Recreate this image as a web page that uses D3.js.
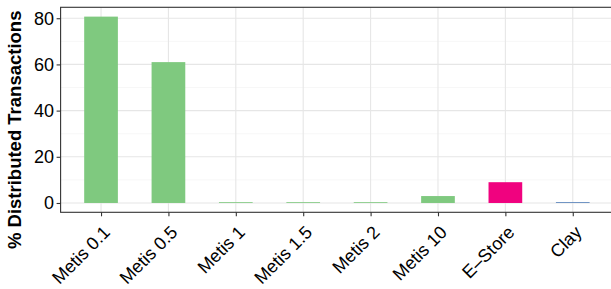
<!DOCTYPE html>
<html lang="en">
<head>
<meta charset="utf-8">
<title>Distributed Transactions</title>
<script src="https://cdn.jsdelivr.net/npm/d3@7"></script>
<style>
  body { margin: 0; background: #fff; }
  text { font-family: "Liberation Sans", Arial, Helvetica, sans-serif; fill: #000; }
</style>
</head>
<body>
<script>
// data
var systems = ["Metis 0.1", "Metis 0.5", "Metis 1", "Metis 1.5", "Metis 2", "Metis 10", "E\u2013Store", "Clay"];
var distributed = [80.7, 61.0, 0.35, 0.35, 0.35, 3.0, 9.0, 0.3];
var barColors = ["#7fc97f", "#7fc97f", "#7fc97f", "#7fc97f", "#7fc97f", "#7fc97f", "#f0027f", "#386cb0"];
var yTicks = [0, 20, 40, 60, 80];
var yMinor = [10, 30, 50, 70];

var W = 611, H = 289;
var panel = {left: 60.6, right: 613.2, top: 7.3, bottom: 212.3};

var svg = d3.select("body").append("svg")
    .attr("width", W)
    .attr("height", H);

var x = d3.scalePoint()
    .domain(systems)
    .range([panel.left, panel.right])
    .padding(0.6);

var yMax = d3.max(distributed);
var y = d3.scaleLinear()
    .domain([-yMax * 0.05, yMax * 1.05])
    .range([panel.bottom, panel.top]);

var barW = x.step() * 0.5;

// grid
var grid = svg.append("g");
grid.selectAll(".minor").data(yMinor).enter().append("line")
    .attr("x1", panel.left).attr("x2", panel.right)
    .attr("y1", function(d) { return y(d); })
    .attr("y2", function(d) { return y(d); })
    .attr("stroke", "#f2f2f2").attr("stroke-width", 0.6);
grid.selectAll(".major").data(yTicks).enter().append("line")
    .attr("x1", panel.left).attr("x2", panel.right)
    .attr("y1", function(d) { return y(d); })
    .attr("y2", function(d) { return y(d); })
    .attr("stroke", "#e6e6e6").attr("stroke-width", 1.1);
grid.selectAll(".vert").data(systems).enter().append("line")
    .attr("x1", function(d) { return x(d); })
    .attr("x2", function(d) { return x(d); })
    .attr("y1", panel.top).attr("y2", panel.bottom)
    .attr("stroke", "#e6e6e6").attr("stroke-width", 1.1);

// bars
svg.selectAll(".bar")
    .data(systems)
    .enter()
    .append("rect")
    .attr("x", function(d) { return x(d) - barW / 2; })
    .attr("y", function(d, i) { return y(distributed[i]); })
    .attr("width", barW)
    .attr("height", function(d, i) { return y(0) - y(distributed[i]); })
    .attr("fill", function(d, i) { return barColors[i]; });

// panel border
svg.append("rect")
    .attr("x", panel.left).attr("y", panel.top)
    .attr("width", panel.right - panel.left)
    .attr("height", panel.bottom - panel.top)
    .attr("fill", "none")
    .attr("stroke", "#333").attr("stroke-width", 1.1);

// y axis
var yAxis = svg.append("g")
    .attr("transform", "translate(" + panel.left + ",0)")
    .call(d3.axisLeft(y).tickValues(yTicks).tickSize(4).tickPadding(2.5));
yAxis.select(".domain").remove();
yAxis.selectAll(".tick line").attr("stroke", "#333").attr("stroke-width", 1.1);
yAxis.selectAll(".tick text")
    .style("font-size", "18px")
    .style("font-family", "'Liberation Sans', Arial, sans-serif")
    .attr("fill", "#000");

// x axis
var xAxis = svg.append("g")
    .attr("transform", "translate(0," + panel.bottom + ")")
    .call(d3.axisBottom(x).tickSize(4).tickFormat(""));
xAxis.select(".domain").remove();
xAxis.selectAll(".tick line").attr("stroke", "#333").attr("stroke-width", 1.1);

svg.selectAll(".xlab")
    .data(systems)
    .enter()
    .append("text")
    .attr("transform", function(d) {
        return "translate(" + (x(d) + 1) + "," + (panel.bottom + 12) + ") rotate(-45)";
    })
    .attr("text-anchor", "end")
    .attr("dy", "0.72em")
    .style("font-size", "18px")
    .text(function(d) { return d; });

// y title
svg.append("text")
    .attr("transform", "translate(21," + ((panel.top + panel.bottom) / 2 + 20) + ") rotate(-90)")
    .attr("text-anchor", "middle")
    .style("font-size", "18.5px")
    .style("font-weight", "bold")
    .text("% Distributed Transactions");
</script>
</body>
</html>
